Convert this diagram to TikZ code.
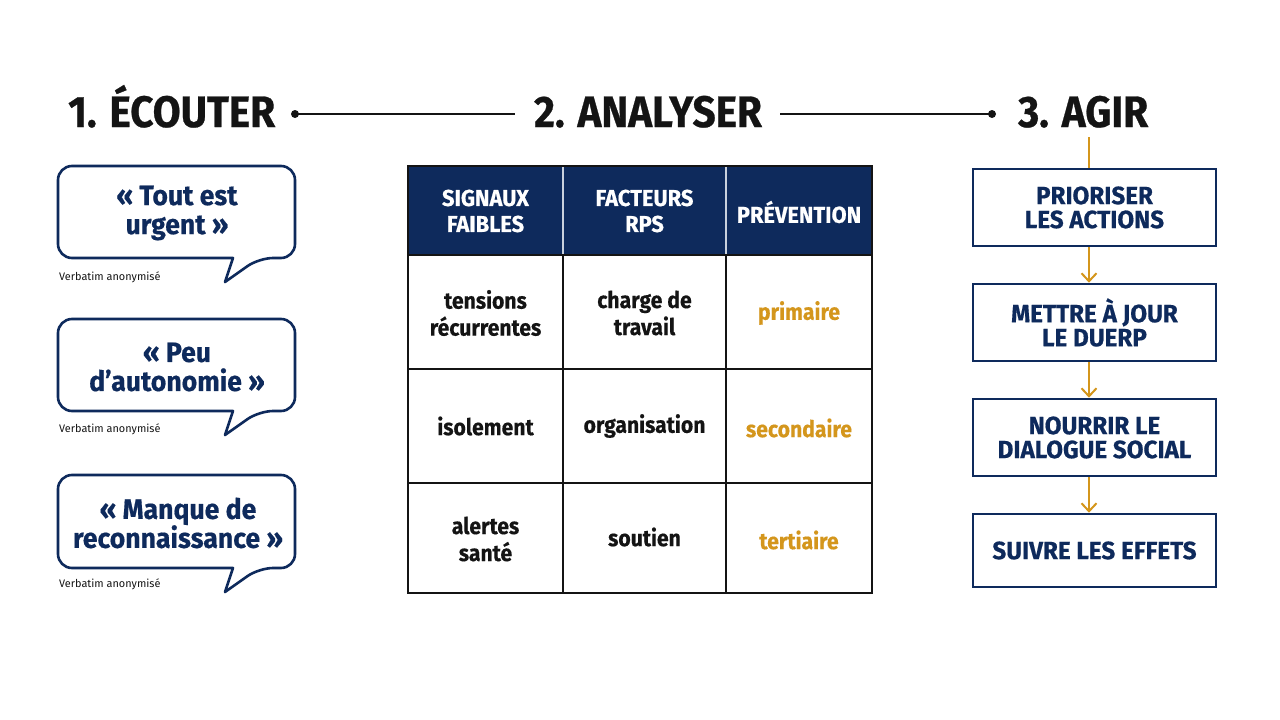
\documentclass[tikz,border=0pt]{standalone}
\usepackage{fontspec}
\setmainfont{Fira Sans}
\newfontfamily\fhead{Fira Sans}[FakeStretch=0.92, BoldFeatures={FakeBold=0.6}]
\newfontfamily\fquote{Fira Sans}[FakeStretch=0.95, BoldFeatures={FakeBold=0.5}]
\newfontfamily\fth{Fira Sans}[FakeStretch=0.95, BoldFeatures={FakeBold=0.5}]
\newfontfamily\ftd{Fira Sans}[FakeStretch=0.92, BoldFeatures={FakeBold=0.4}]
\newfontfamily\fact{Fira Sans}[FakeStretch=0.97, BoldFeatures={FakeBold=0.5}]
\usetikzlibrary{arrows.meta}
\definecolor{navy}{HTML}{0E2A5C}
\definecolor{gold}{HTML}{D4961C}
\definecolor{ink}{HTML}{141414}
\definecolor{sep}{HTML}{C9D1DD}
\newcommand\speech[2]{\draw[bubble,rounded corners=14pt] (58,#1) -- (295,#1) -- (295,#2) -- (259,#2) [sharp corners] -- (225,#2+24) -- (233,#2) [rounded corners=14pt] -- (58,#2) -- cycle;}
\begin{document}
\begin{tikzpicture}[x=1pt,y=-1pt,
 head/.style={font=\fhead\bfseries\fontsize{44}{48}\selectfont, text=ink, inner sep=0},
 quote/.style={font=\fquote\bfseries\fontsize{28}{29}\selectfont, text=navy, align=center, inner sep=0},
 verb/.style={font=\fontsize{10.9}{12}\selectfont, text=ink, anchor=base west, inner sep=0},
 bubble/.style={draw=navy, line width=2.6pt, fill=white, line join=round},
 th/.style={font=\fth\bfseries\fontsize{23}{26}\selectfont, text=white, align=center, inner sep=0},
 td/.style={font=\ftd\bfseries\fontsize{23}{27}\selectfont, text=ink, align=center, inner sep=0},
 tp/.style={td, text=gold},
 act/.style={draw=navy, line width=2.6pt, minimum width=243pt, font=\fact\bfseries\fontsize{25}{24}\selectfont, text=navy, align=center},
 flow/.style={draw=gold, line width=2pt, -{Straight Barb[length=8pt,width=15pt]}},
 grid/.style={draw=ink, line width=1.8pt}
]
\useasboundingbox[fill=white] (0,0) rectangle (1280,720);

% headings
\node[head, anchor=base west] (h1) at (68,127) {1. ÉCOUTER};
\node[head, anchor=base] (h2) at (648,127) {2. ANALYSER};
\node[head, anchor=base west] (h3) at (1018,127) {3. AGIR};
\coordinate (d1) at (295,114);
\coordinate (e1) at (515,114);
\coordinate (e2) at (780,114);
\coordinate (d2) at (992,114);
\draw[ink, line width=2pt] (d1) -- (e1);
\draw[ink, line width=2pt] (e2) -- (d2);
\fill[ink] (d1) circle (4pt);
\fill[ink] (d2) circle (4pt);

% speech bubbles
\speech{166}{258}
\speech{319}{411}
\speech{475}{568}
\node[quote] (q1) at (177,213) {« Tout est\\urgent »};
\node[quote] (q2) at (177,367) {« Peu\\d’autonomie »};
\node[quote] (q3) at (178,523) {« Manque de\\reconnaissance »};
\node[verb] (v1) at (59,280) {Verbatim anonymisé};
\node[verb] (v2) at (59,432) {Verbatim anonymisé};
\node[verb] (v3) at (59,587) {Verbatim anonymisé};

% table
\fill[navy] (408,166) rectangle (872,255);
\draw[sep, line width=1.8pt] (563,166) -- (563,255) (726,166) -- (726,255);
\draw[grid] (563,255) -- (563,593) (726,255) -- (726,593);
\draw[grid] (408,255) -- (872,255) (408,369) -- (872,369) (408,483) -- (872,483);
\draw[grid] (408,166) rectangle (872,593);
\node[th] (t1) at (485.5,211) {SIGNAUX\\FAIBLES};
\node[th] (t2) at (644.5,211) {FACTEURS\\RPS};
\node[th] (t3) at (799,212) {PRÉVENTION};
\node[td] (r11) at (485.5,313) {tensions\\récurrentes};
\node[td] (r12) at (644.5,313) {charge de\\travail};
\node[tp] (r13) at (799,313) {primaire};
\node[td] (r21) at (485.5,426) {isolement};
\node[td] (r22) at (644.5,426) {organisation};
\node[tp] (r23) at (799,428) {secondaire};
\node[td] (r31) at (485.5,539) {alertes\\santé};
\node[td] (r32) at (644.5,537) {soutien};
\node[tp] (r33) at (799,540) {tertiaire};

% actions
\node[act, minimum height=77pt] (a1) at (1094.5,207.5) {PRIORISER\\LES ACTIONS};
\node[act, minimum height=77pt] (a2) at (1094.5,322.5) {METTRE À JOUR\\LE DUERP};
\node[act, minimum height=77pt] (a3) at (1094.5,437.5) {NOURRIR LE\\DIALOGUE SOCIAL};
\node[act, minimum height=73pt] (a4) at (1094.5,550.5) {SUIVRE LES EFFETS};
\coordinate (g) at (1089,137);
\draw[gold, line width=2pt] (g) -- (a1.north -| g);
\draw[flow] (a1.south -| g) -- (a2.north -| g);
\draw[flow] (a2.south -| g) -- (a3.north -| g);
\draw[flow] (a3.south -| g) -- (a4.north -| g);
\end{tikzpicture}
\end{document}
